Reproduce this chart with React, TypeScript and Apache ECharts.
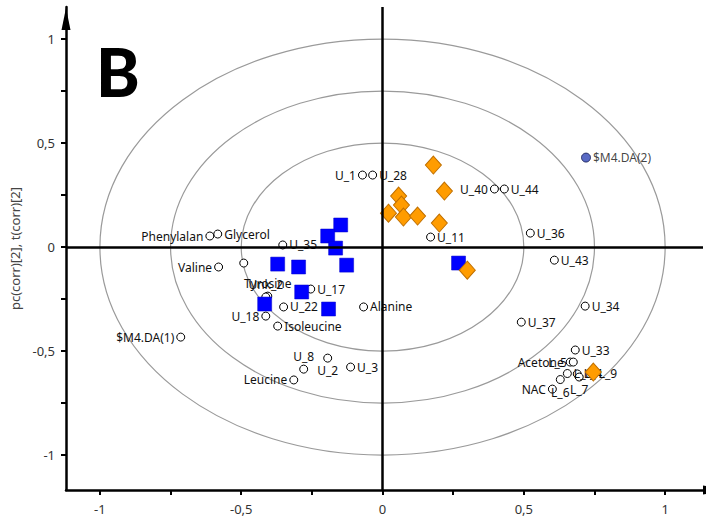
import React, { useEffect, useRef } from "react";
import * as echarts from "echarts";

// ---- Data ----
const variableNames = [
  "Phenylalan", "Glycerol", "U_35", "Valine", "", "Tyrosine", "Unk_2", "U_17", "U_22", "U_18",
  "Isoleucine", "Alanine", "$M4.DA(1)", "U_8", "U_2", "U_3", "Leucine", "U_1", "U_28", "U_40",
  "U_44", "U_11", "U_36", "U_43", "U_34", "U_37", "U_33", "Acetone", "L_5", "L_8",
  "L_4", "L_9", "L_6", "L_7", "NAC",
];
const variableX = [
  -0.611, -0.583, -0.353, -0.580, -0.491, -0.406, -0.413, -0.254, -0.350, -0.413,
  -0.371, -0.067, -0.714, -0.279, -0.194, -0.113, -0.314, -0.071, -0.035, 0.396,
  0.431, 0.170, 0.523, 0.608, 0.717, 0.491, 0.682, 0.664, 0.675, 0.654,
  0.689, 0.742, 0.629, 0.696, 0.601,
];
const variableY = [
  0.053, 0.0625, 0.010, -0.096, -0.077, -0.236, -0.240, -0.202, -0.288, -0.332,
  -0.380, -0.288, -0.433, -0.587, -0.534, -0.577, -0.639, 0.346, 0.346, 0.279,
  0.279, 0.048, 0.067, -0.063, -0.284, -0.361, -0.495, -0.553, -0.553, -0.608,
  -0.610, -0.610, -0.637, -0.625, -0.683,
];
// label side for each variable (styling)
const labelSide = [
  "left", "right", "right", "left", "right", "top", "top", "right", "right", "left",
  "right", "right", "left", "top", "bottom", "right", "left", "left", "right", "left",
  "right", "right", "right", "right", "right", "right", "right", "left", "left", "right",
  "right", "right", "bottom", "bottom", "left",
];

const highlightName = "$M4.DA(2)";
const highlightX = 0.72;
const highlightY = 0.43;

const squareX = [-0.148, -0.194, -0.166, -0.127, -0.297, -0.371, -0.286, -0.191, -0.417, 0.269];
const squareY = [0.106, 0.053, -0.005, -0.087, -0.096, -0.082, -0.216, -0.298, -0.274, -0.077];

const diamondX = [0.180, 0.219, 0.057, 0.067, 0.021, 0.074, 0.124, 0.201, 0.300, 0.746];
const diamondY = [0.394, 0.269, 0.245, 0.202, 0.163, 0.144, 0.149, 0.115, -0.111, -0.601];

const ellipseRadii = [1, 0.75, 0.5];

const xTicks = [-1, -0.75, -0.5, -0.25, 0, 0.25, 0.5, 0.75, 1];
const xLabels = [-1, -0.5, 0, 0.5, 1];
const yTicks = [-1, -0.75, -0.5, -0.25, 0, 0.25, 0.5, 0.75, 1];
const yLabels = [-1, -0.5, 0, 0.5, 1];

const yAxisTitle = "pc(corr)[2], t(corr)[2]";
const panelLetter = "B";

const fmt = (v: number) => String(v).replace(".", ",");

export default function App() {
  const ref = useRef<HTMLDivElement>(null);
  useEffect(() => {
    if (!ref.current) return;
    const chart = echarts.init(ref.current, null, { renderer: "svg" });
    const font = "Noto Sans";
    const option: any = {
      animation: false,
      backgroundColor: "#ffffff",
      textStyle: { fontFamily: font },
      grid: { left: 65, right: 3, top: 7, bottom: 26, containLabel: false },
      xAxis: {
        type: "value",
        min: -1.12,
        max: 1.134,
        splitLine: { show: false },
        axisLine: {
          show: true,
          onZero: false,
          lineStyle: { color: "#000", width: 2.5 },
          symbol: ["none", "triangle"],
          symbolSize: [9, 22],
          symbolOffset: [0, 11],
        },
        axisTick: { show: true, length: 5, lineStyle: { color: "#000", width: 2 }, customValues: xTicks },
        axisLabel: {
          show: true,
          margin: 12,
          fontSize: 13,
          color: "#333",
          fontFamily: font,
          customValues: xLabels,
          formatter: (v: number) => fmt(v),
        },
      },
      yAxis: {
        type: "value",
        min: -1.168,
        max: 1.154,
        splitLine: { show: false },
        name: yAxisTitle,
        nameLocation: "middle",
        nameGap: 45,
        nameTextStyle: { fontSize: 13, color: "#444", fontFamily: font },
        axisLine: {
          show: true,
          onZero: false,
          lineStyle: { color: "#000", width: 2.5 },
          symbol: ["none", "triangle"],
          symbolSize: [9, 22],
          symbolOffset: [0, -12],
        },
        axisTick: { show: true, length: 5, lineStyle: { color: "#000", width: 2 }, customValues: yTicks },
        axisLabel: {
          show: true,
          margin: 11,
          fontSize: 13,
          color: "#333",
          fontFamily: font,
          customValues: yLabels,
          formatter: (v: number) => fmt(v),
        },
      },
      graphic: [
        {
          type: "text",
          left: 96,
          top: 38,
          style: {
            text: panelLetter,
            fontSize: 66,
            fontWeight: 900,
            fontFamily: "Lato",
            fill: "#000",
          },
          z: 100,
        },
      ],
      series: [
        {
          type: "custom",
          coordinateSystem: "cartesian2d",
          silent: true,
          z: 1,
          data: ellipseRadii.map((r) => [0, 0, r]),
          renderItem: (params: any, api: any) => {
            const c = api.coord([api.value(0), api.value(1)]);
            const s = api.size([api.value(2), api.value(2)]);
            return {
              type: "ellipse",
              shape: { cx: c[0], cy: c[1], rx: s[0], ry: s[1] },
              style: { fill: "none", stroke: "#9a9a9a", lineWidth: 1.2 },
            };
          },
        },
        {
          type: "line",
          data: [],
          silent: true,
          z: 2,
          markLine: {
            silent: true,
            symbol: "none",
            label: { show: false },
            lineStyle: { color: "#000", width: 2.5, type: "solid" },
            data: [{ xAxis: 0 }, { yAxis: 0 }],
          },
        },
        {
          type: "scatter",
          z: 3,
          symbol: "circle",
          symbolSize: 8,
          itemStyle: { color: "#fff", borderColor: "#000", borderWidth: 1, opacity: 1 },
          label: {
            show: true,
            formatter: "{b}",
            fontSize: 12,
            color: "#111",
            fontFamily: font,
            distance: 2,
          },
          data: variableNames.map((n, i) => ({
            name: n,
            value: [variableX[i], variableY[i]],
            label: { position: labelSide[i] },
          })),
        },
        {
          type: "scatter",
          z: 3,
          symbol: "circle",
          symbolSize: 9,
          itemStyle: { color: "#2f45b5", borderColor: "#101850", borderWidth: 1 },
          label: {
            show: true,
            formatter: "{b}",
            position: "right",
            fontSize: 12,
            color: "#111",
            fontFamily: font,
            distance: 2,
          },
          data: [{ name: highlightName, value: [highlightX, highlightY] }],
        },
        {
          type: "scatter",
          z: 4,
          symbol: "rect",
          symbolSize: 14,
          itemStyle: { color: "#0000ff", borderColor: "#0000c8", borderWidth: 0.5, opacity: 1 },
          data: squareX.map((x, i) => [x, squareY[i]]),
        },
        {
          type: "scatter",
          z: 4,
          symbol: "diamond",
          symbolSize: [16, 18],
          itemStyle: { color: "#ff9c00", borderColor: "#c07000", borderWidth: 1, opacity: 1 },
          data: diamondX.map((x, i) => [x, diamondY[i]]),
        },
      ],
    };
    chart.setOption(option);
    return () => chart.dispose();
  }, []);
  return (
    <div
      ref={ref}
      style={{ position: "fixed", left: 0, top: 0, width: 706, height: 516, background: "#fff" }}
    />
  );
}
